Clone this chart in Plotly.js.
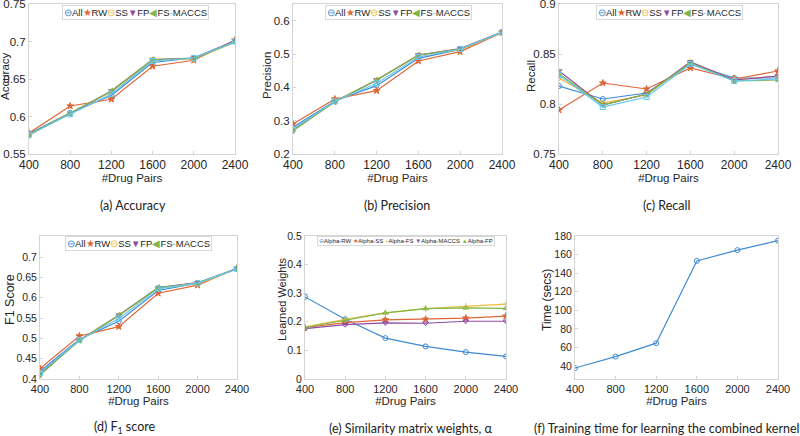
<!DOCTYPE html>
<html><head><meta charset="utf-8">
<script src="https://cdn.plot.ly/plotly-3.0.1.min.js"></script>
<style>body{margin:0;background:#fff}#chart{width:800px;height:436px}</style>
</head><body><div id="chart"></div>
<script>
// ---------- DATA ----------
const pairs = [400, 800, 1200, 1600, 2000, 2400];
const seriesNames = ['All', 'RW', 'SS', 'FP', 'FS', 'MACCS'];
const xTicks = [400, 800, 1200, 1600, 2000, 2400];

// (a) Accuracy
const accAll   = [0.577, 0.605, 0.628, 0.672, 0.678, 0.700];
const accRW    = [0.578, 0.614, 0.623, 0.667, 0.675, 0.702];
const accSS    = [0.576, 0.604, 0.633, 0.675, 0.677, 0.700];
const accFP    = [0.576, 0.604, 0.634, 0.676, 0.678, 0.701];
const accFS    = [0.575, 0.604, 0.634, 0.676, 0.677, 0.699];
const accMACCS = [0.576, 0.603, 0.630, 0.674, 0.678, 0.700];

// (b) Precision
const preAll   = [0.280, 0.359, 0.405, 0.487, 0.514, 0.565];
const preRW    = [0.290, 0.365, 0.390, 0.479, 0.507, 0.564];
const preSS    = [0.272, 0.358, 0.421, 0.496, 0.513, 0.564];
const preFP    = [0.271, 0.357, 0.422, 0.497, 0.516, 0.566];
const preFS    = [0.270, 0.357, 0.422, 0.497, 0.515, 0.565];
const preMACCS = [0.275, 0.358, 0.412, 0.491, 0.515, 0.565];

// (c) Recall
const recAll   = [0.818, 0.805, 0.811, 0.840, 0.826, 0.826];
const recRW    = [0.794, 0.821, 0.815, 0.836, 0.825, 0.833];
const recSS    = [0.826, 0.801, 0.809, 0.842, 0.824, 0.828];
const recFP    = [0.833, 0.799, 0.810, 0.842, 0.824, 0.828];
const recFS    = [0.830, 0.799, 0.810, 0.841, 0.823, 0.824];
const recMACCS = [0.829, 0.797, 0.807, 0.840, 0.823, 0.825];

// (d) F1 score
const f1All   = [0.419, 0.498, 0.542, 0.618, 0.636, 0.671];
const f1RW    = [0.426, 0.506, 0.529, 0.611, 0.631, 0.673];
const f1SS    = [0.413, 0.496, 0.556, 0.624, 0.634, 0.671];
const f1FP    = [0.412, 0.495, 0.557, 0.625, 0.637, 0.672];
const f1FS    = [0.410, 0.495, 0.557, 0.625, 0.636, 0.671];
const f1MACCS = [0.415, 0.496, 0.549, 0.622, 0.636, 0.671];

// (e) Learned weights
const weightNames = ['Alpha-RW', 'Alpha-SS', 'Alpha-FS', 'Alpha-MACCS', 'Alpha-FP'];
const wRW    = [0.287, 0.209, 0.143, 0.114, 0.094, 0.079];
const wSS    = [0.180, 0.197, 0.207, 0.209, 0.213, 0.220];
const wFS    = [0.182, 0.209, 0.231, 0.246, 0.254, 0.262];
const wMACCS = [0.176, 0.190, 0.196, 0.195, 0.202, 0.202];
const wFP    = [0.180, 0.206, 0.231, 0.246, 0.249, 0.247];

// (f) Training time
const timeSecs = [37.8, 50.1, 64.6, 153.2, 164.8, 175.0];

// ---------- STYLE ----------
const C = {All:'#3f8bd2', RW:'#df6535', SS:'#efbd3c', FP:'#8e4aa4', FS:'#82b646', MACCS:'#62c8f0'};
const SYM = {All:'circle-open', RW:'star', SS:'hexagon-open', FP:'triangle-down-open', FS:'triangle-left-open', MACCS:'square-open'};
const FAM = 'Liberation Sans, Arial, sans-serif';
const capFont = {family:'Lato, Open Sans, sans-serif', size:12.5, color:'#222'};

function lineTrace(x, y, name, color, symbol, xa, ya){
  return {x:x, y:y, name:name, type:'scatter', mode:'lines+markers', xaxis:xa, yaxis:ya,
    showlegend:false, line:{color:color, width:1.2},
    marker:{symbol:symbol, size:5, color:color, line:{color:color, width:1}}};
}
const metricSets = [
  [[accAll,accRW,accSS,accFP,accFS,accMACCS],'x','y'],
  [[preAll,preRW,preSS,preFP,preFS,preMACCS],'x2','y2'],
  [[recAll,recRW,recSS,recFP,recFS,recMACCS],'x3','y3'],
  [[f1All,f1RW,f1SS,f1FP,f1FS,f1MACCS],'x4','y4']
];
const traces = [];
metricSets.forEach(([arrs,xa,ya])=>{
  arrs.forEach((arr,i)=>{
    const n = seriesNames[i];
    traces.push(lineTrace(pairs, arr, n, C[n], SYM[n], xa, ya));
  });
});
const wArrs = [wRW, wSS, wFS, wMACCS, wFP];
const wColors = [C.All, C.RW, C.SS, C.FP, C.FS];
const wSyms = ['circle-open','star','cross-thin-open','triangle-down-open','triangle-up-open'];
wArrs.forEach((arr,i)=>traces.push(lineTrace(pairs, arr, weightNames[i], wColors[i], wSyms[i], 'x5','y5')));
traces.push(lineTrace(pairs, timeSecs, 'Time', C.All, 'circle-open', 'x6','y6'));

const axisCommon = {showline:true, mirror:true, linecolor:'#d4d4d4', linewidth:1,
  ticks:'inside', ticklen:3, tickcolor:'#d4d4d4', showgrid:false, zeroline:false,
  ticklabeloverflow:'allow'};
function xax(domain, anchor, top){
  return Object.assign({}, axisCommon, {domain:domain, anchor:anchor, range:[400,2400], tickvals:xTicks,
    tickfont:{family:FAM, size: top?12:11, color:'#262626'},
    title:{text:'#Drug Pairs', font:{family:FAM, size:11.5, color:'#262626'}, standoff: top?0:2}});
}
function yax(domain, anchor, range, tickvals, top){
  return Object.assign({}, axisCommon, {domain:domain, anchor:anchor, range:range, tickvals:tickvals,
    tickfont:{family:FAM, size: top?11.5:10.5, color:'#262626'}});
}
const W=800, H=436;
const px = (a,b)=>[a/W, b/W];
const TOP = [1-154/H, 1-4/H];
const BOT = [1-379/H, 1-236/H];

function legendText(items){
  return items.map(([sym,color,label])=>`<span style="color:${color}">${sym}</span>${label}`).join('');
}
const legTop = legendText([['⊖',C.All,'All'],['★',C.RW,'RW'],['⊖',C.SS,'SS'],['▼',C.FP,'FP'],['◀',C.FS,'FS'],['-',C.MACCS,'MACCS']]);
const legE = legendText([['⊖',C.All,'Alpha-RW '],['★',C.RW,'Alpha-SS '],['+',C.SS,'Alpha-FS '],['▼',C.FP,'Alpha-MACCS '],['▲',C.FS,'Alpha-FP']]);

function legAnn(xc, yc, text, size){
  return {xref:'paper', yref:'paper', x:xc/W, y:1-yc/H, xanchor:'center', yanchor:'middle',
    text:text, showarrow:false, font:{family:FAM, size:size, color:'#262626'},
    bgcolor:'#fff', bordercolor:'#d8d8d8', borderwidth:1, borderpad:1};
}
function capAnn(xc, yc, text){
  return {xref:'paper', yref:'paper', x:xc/W, y:1-yc/H, xanchor:'center', yanchor:'middle',
    text:text, showarrow:false, font:capFont};
}
function yTitle(xc, yc, text, size){
  return {xref:'paper', yref:'paper', x:xc/W, y:1-yc/H, xanchor:'center', yanchor:'middle',
    text:text, textangle:-90, showarrow:false, font:{family:FAM, size:size, color:'#262626'}};
}

const layout = {
  width:W, height:H, margin:{l:0,r:0,t:0,b:0}, paper_bgcolor:'#fff', plot_bgcolor:'#fff',
  showlegend:false,
  xaxis: xax(px(29,235),'y',true),
  yaxis: yax(TOP,'x',[0.55,0.75],[0.55,0.6,0.65,0.7,0.75],true),
  xaxis2: xax(px(293,502),'y2',true),
  yaxis2: yax(TOP,'x2',[0.2,0.65],[0.2,0.3,0.4,0.5,0.6],true),
  xaxis3: xax(px(559,778),'y3',true),
  yaxis3: yax(TOP,'x3',[0.75,0.9],[0.75,0.8,0.85,0.9],true),
  xaxis4: xax(px(40,237),'y4',false),
  yaxis4: yax(BOT,'x4',[0.4,0.752],[0.4,0.45,0.5,0.55,0.6,0.65,0.7],false),
  xaxis5: xax(px(305,506),'y5',false),
  yaxis5: yax(BOT,'x5',[0,0.5],[0,0.1,0.2,0.3,0.4,0.5],false),
  xaxis6: xax(px(575,778),'y6',false),
  yaxis6: yax(BOT,'x6',[26,180],[40,60,80,100,120,140,160,180],false),
  annotations:[
    yTitle(5,76,'Accuracy',11.5),
    yTitle(267,76,'Precision',11.5),
    yTitle(531,76,'Recall',11.5),
    yTitle(10,300,'F1 Score',12.5),
    yTitle(282,300,'Learned Weights',11),
    yTitle(547,300,'Time (secs)',12),
    legAnn(135,12,legTop,9.5),
    legAnn(398,12,legTop,9.5),
    legAnn(669,12,legTop,9.5),
    legAnn(138,243,legTop,9.5),
    legAnn(406,241,legE,6),
    capAnn(133,205,'(a) Accuracy'),
    capAnn(397,205,'(b) Precision'),
    capAnn(666,205,'(c) Recall'),
    capAnn(125,427,'(d) F<sub>1</sub> score'),
    capAnn(411,428,'(e) Similarity matrix weights, α'),
    capAnn(667,428,'(f) Training time for learning the combined kernel')
  ]
};
Plotly.newPlot('chart', traces, layout, {staticPlot:true, displayModeBar:false});
</script>
</body></html>
